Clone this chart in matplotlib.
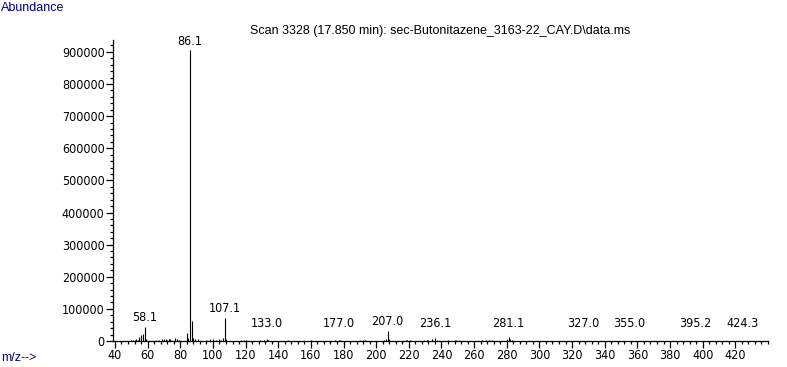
import matplotlib
matplotlib.use("Agg")
import matplotlib.pyplot as plt
from matplotlib.ticker import MultipleLocator
from matplotlib import font_manager

# ---- data ----
mz = [50, 51, 52, 53, 54, 55, 56, 57, 58.1, 59, 65, 67, 69, 70, 71, 72, 73, 74, 77, 78, 79,
      84, 85, 86.1, 87, 88, 89, 91, 96, 98, 100, 102, 104, 105, 106, 107.1, 108,
      117, 119, 120, 129, 131, 133.0, 134, 146, 160, 175, 177.0, 178, 190, 192, 193,
      205, 206, 207.0, 208, 218, 219, 221, 229, 231, 232, 234, 236.1, 237, 244, 248, 249, 251,
      265, 267, 269, 271, 280, 281.1, 282, 283, 327.0, 355.0, 395.2, 424.3]
abundance = [3000, 4000, 3000, 5000, 4000, 12000, 18000, 22000, 45000, 5000, 3000, 4000, 6000, 5000,
             6000, 4000, 7000, 5000, 9000, 5000, 3000,
             25000, 8000, 905000, 62000, 10000, 6000, 7000, 4000, 6000, 5000, 4000, 5000, 4000, 8000,
             73000, 6000,
             3000, 4000, 3000, 3000, 4000, 5000, 3000, 2000, 2000, 2000, 3000, 2000, 3000, 4000, 3000,
             4000, 5000, 32000, 6000, 3000, 3000, 2000, 2000, 3000, 3000, 5000, 9000, 3000, 2000,
             3000, 2000, 3000,
             2000, 3000, 2000, 3000, 6000, 12000, 7000, 3000, 1000, 1000, 1000, 1000]
labeled_mz = [58.1, 86.1, 107.1, 133.0, 177.0, 207.0, 236.1, 281.1, 327.0, 355.0, 395.2, 424.3]
title = "Scan 3328 (17.850 min): sec-Butonitazene_3163-22_CAY.D\\data.ms"
y_label = "Abundance"
x_label = "m/z-->"

# ---- fonts ----
fonts = font_manager.fontManager.ttflist
names = {f.name for f in fonts}
num_font = dict(family="Liberation Sans", fontsize=9)
if "Liberation Sans Narrow" in names:
    num_font = dict(family="Liberation Sans Narrow", fontsize=10)
elif any(f.name == "DejaVu Sans" and f.stretch == "condensed" for f in fonts):
    num_font = dict(family="DejaVu Sans", fontstretch="condensed", fontsize=9)
regular = "Liberation Sans"

W, H = 787, 367
fig = plt.figure(figsize=(W / 100, H / 100), dpi=100)
left, right, bottom, top = 113, 768, 341, 40
ax = fig.add_axes([left / W, (H - bottom) / H, (right - left) / W, (bottom - top) / H])

ax.vlines(mz, 0, abundance, color="black", linewidth=0.8)

ax.set_xlim(38.8, 440)
ax.set_ylim(0, 937000)

for s in ["top", "right"]:
    ax.spines[s].set_visible(False)
for s in ["left", "bottom"]:
    ax.spines[s].set_linewidth(0.9)

ax.xaxis.set_minor_locator(MultipleLocator(4))
ax.yaxis.set_major_locator(MultipleLocator(100000))
ax.yaxis.set_minor_locator(MultipleLocator(20000))
ax.set_xticks(list(range(40, 421, 20)))
ax.tick_params(axis="both", which="major", length=5, width=0.9, direction="out", pad=1)
ax.tick_params(axis="both", which="minor", length=2.5, width=0.9, direction="out")
ax.yaxis.set_major_formatter(matplotlib.ticker.FuncFormatter(lambda v, p: f"{int(round(v))}"))
for lab in ax.get_xticklabels() + ax.get_yticklabels():
    lab.set(**num_font)

# peak labels
label_floor = 25000
lookup = dict(zip(mz, abundance))
for m in labeled_mz:
    y = max(lookup[m], label_floor)
    ax.annotate(f"{m:.1f}", xy=(m, y), xytext=(0, 2), textcoords="offset points",
                ha="center", va="bottom", **num_font)

fig.text(440 / W, 1 - 31 / H, title, ha="center", va="center", fontsize=9, family=regular)
fig.text(1 / W, 1 - 8 / H, y_label, ha="left", va="center", fontsize=9, family=regular, color="#000080")
fig.text(1 / W, 1 - 358 / H, x_label, ha="left", va="center", fontsize=9, family=regular, color="#000080")

fig.savefig("out.png", dpi=100)
